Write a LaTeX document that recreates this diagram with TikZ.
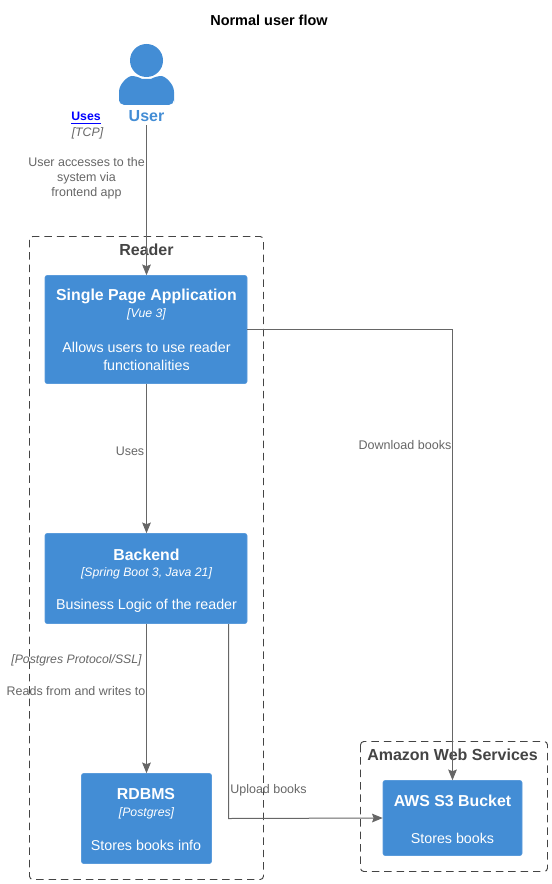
\documentclass[tikz,border=0pt]{standalone}
\usepackage{fontspec}
\setmainfont{Liberation Sans}
\usetikzlibrary{arrows.meta,calc}
\definecolor{boxblue}{HTML}{438DD5}
\definecolor{boxedge}{HTML}{5A9BDB}
\definecolor{linegray}{HTML}{666666}
\definecolor{bndgray}{HTML}{444444}
\newcommand{\fs}[1]{\fontsize{#1}{#1}\selectfont}
\tikzset{
  x=0.75pt,y=-0.75pt,
  blk/.style={fill=boxblue,draw=boxedge,line width=0.4pt,rounded corners=1.5pt,inner sep=0pt},
  bnd/.style={draw=bndgray,dashed,dash pattern=on 5.6pt off 3.7pt,line width=0.7pt,rounded corners=2.5pt},
  conn/.style={draw=linegray,line width=0.75pt,-{Stealth[length=8pt,width=6.5pt,inset=1.2pt,color=linegray]}},
  wt/.style={text=white,inner sep=0pt,align=center,anchor=center},
  lab/.style={text=linegray,inner sep=0pt,align=center,anchor=center},
  bt/.style={text=bndgray,inner sep=0pt,font=\bfseries\fs{12}}
}
\begin{document}
\begin{tikzpicture}
\useasboundingbox (0,0) rectangle (551,884);
% boundaries
\draw[bnd] (29.5,236.5) rectangle (263.5,879.5);
\draw[bnd] (360.5,741.5) rectangle (547.5,871.5);
\node[bt] (readerT) at (146.5,250) {Reader};
\node[bt] (awsT) at (452.5,754.5) {Amazon Web Services};
% title
\node[inner sep=0pt,text=black,font=\bfseries\fs{10.85}] (title) at (269,20) {Normal user flow};
% person
\fill[boxblue] (146.5,60.5) circle (16.5);
\fill[boxblue,rounded corners=4pt] (119,105) -- (119,97) .. controls (119,84) and (128,76) .. (137,76)
  .. controls (142,79) and (151,79) .. (156,76) .. controls (165,76) and (174,84) .. (174,97) -- (174,105) -- cycle;
\node[inner sep=0pt,text=boxblue,font=\bfseries\fs{12}] (user) at (146.5,116) {User};
% blocks
\node[blk,minimum width=202pt*0.75,minimum height=108pt*0.75] (spa) at (146,329.5) {};
\node[wt,font=\bfseries\fs{11.9}] (spaA) at (146.5,296) {Single Page Application};
\node[wt,font=\itshape\fs{9.2}] (spaB) at (146.5,314.5) {[Vue 3]};
\node[wt,font=\fs{10.7}] (spaC) at (146.5,356.5) {Allows users to use reader\\[3pt]functionalities};
\node[blk,minimum width=202pt*0.75,minimum height=90pt*0.75] (be) at (146,578.5) {};
\node[wt,font=\bfseries\fs{11.9}] (beA) at (146.5,554.5) {Backend};
\node[wt,font=\itshape\fs{9.2}] (beB) at (146.5,573) {[Spring Boot 3, Java 21]};
\node[wt,font=\fs{10.7}] (beC) at (146.5,606) {Business Logic of the reader};
\node[blk,minimum width=130pt*0.75,minimum height=90pt*0.75] (db) at (146.5,818.5) {};
\node[wt,font=\bfseries\fs{11.9}] (dbA) at (146,794.5) {RDBMS};
\node[wt,font=\itshape\fs{9.2}] (dbB) at (146.5,813) {[Postgres]};
\node[wt,font=\fs{10.7}] (dbC) at (146,845) {Stores books info};
\node[blk,minimum width=139pt*0.75,minimum height=75pt*0.75] (s3) at (452.5,818) {};
\node[wt,font=\bfseries\fs{11.9}] (s3A) at (452.5,801) {AWS S3 Bucket};
\node[wt,font=\fs{10.7}] (s3C) at (452.5,838) {Stores books};
% connectors
\coordinate (uStart) at (146.5,125);
\draw[conn] (uStart) -- (spa.north -| uStart);
\draw[conn] (spa.south -| uStart) -- (be.north -| uStart);
\draw[conn] (be.south -| db.north) -- (db.north);
\coordinate (spaOut) at (247,329.5);
\draw[conn] (spaOut) -- (452.5,329.5) -- (s3.north);
\coordinate (beOut) at (228.5,624);
\draw[conn] (beOut) -- (228.5,818.5) -- (s3.west);
% labels
\node[inner sep=0pt,text=blue,font=\bfseries\fs{9.2}] (uses) at (86,118) {\underline{Uses}};
\node[lab,font=\itshape\fs{9.2}] (tcp) at (87.5,133.5) {[TCP]};
\node[lab,font=\fs{9.35}] (ulab) at (86.5,178) {User accesses to the\\[1.9pt]system via\\[1.9pt]frontend app};
\node[lab,font=\fs{9.35}] (l2) at (130,451) {Uses};
\node[lab,font=\fs{9.4}] (l3) at (405,445) {Download books};
\node[lab,font=\itshape\fs{9.2}] (l4) at (76.5,660.5) {[Postgres Protocol/SSL]};
\node[lab,font=\fs{9.35}] (l5) at (76,691) {Reads from and writes to};
\node[lab,font=\fs{9.35}] (l6) at (268.5,790) {Upload books};
\end{tikzpicture}
\end{document}
